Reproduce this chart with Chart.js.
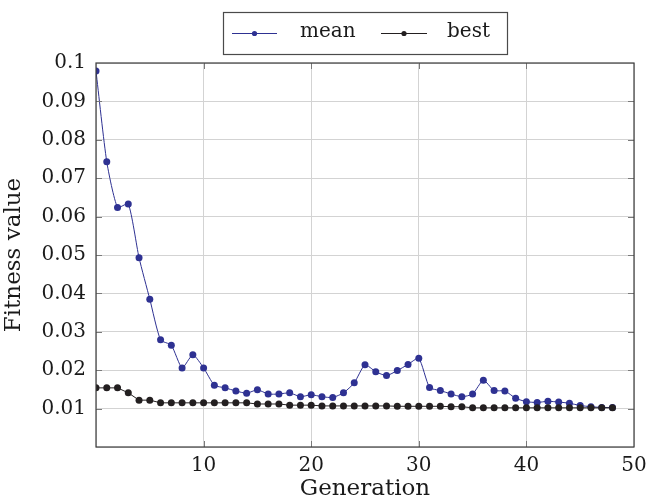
<!DOCTYPE html>
<html>
<head>
<meta charset="utf-8">
<script src="https://cdn.jsdelivr.net/npm/chart.js@4/dist/chart.umd.min.js"></script>
<style>
  html, body { margin: 0; padding: 0; background: #ffffff; }
  #wrap { width: 646px; height: 503px; position: relative; }
</style>
</head>
<body>
<div id="wrap"><canvas id="c" width="646" height="503"></canvas></div>
<script>
const generations = [0,1,2,3,4,5,6,7,8,9,10,11,12,13,14,15,16,17,18,19,20,21,22,23,24,25,26,27,28,29,30,31,32,33,34,35,36,37,38,39,40,41,42,43,44,45,46,47,48];
const meanValues = [0.0979,0.0743,0.0624,0.0633,0.0493,0.0385,0.0279,0.0265,0.0206,0.0240,0.0206,0.0161,0.0154,0.0146,0.0140,0.0149,0.0138,0.0138,0.0141,0.0131,0.0136,0.0131,0.0129,0.0141,0.0167,0.0214,0.0196,0.0186,0.0199,0.0215,0.0231,0.0155,0.0147,0.0138,0.0131,0.0138,0.0174,0.0147,0.0146,0.0127,0.0118,0.0116,0.0119,0.0117,0.0114,0.0108,0.0105,0.0103,0.0103];
const bestValues = [0.0154,0.0154,0.0154,0.0141,0.0122,0.0122,0.0115,0.0115,0.0115,0.0115,0.0115,0.0115,0.0115,0.0115,0.0115,0.0112,0.0112,0.0112,0.0109,0.0109,0.0109,0.0107,0.0107,0.0107,0.0107,0.0107,0.0107,0.0107,0.0106,0.0106,0.0106,0.0106,0.0106,0.0105,0.0105,0.0102,0.0102,0.0102,0.0102,0.0102,0.0102,0.0102,0.0102,0.0102,0.0102,0.0102,0.0102,0.0102,0.0102];
const seriesLabels = ['mean', 'best'];
const xTitle = 'Generation';
const yTitle = 'Fitness value';

const meanColor = 'rgb(46,49,146)';
const bestColor = 'rgb(35,31,32)';
const FONT = "'DejaVu Serif', serif";

const toPoints = (xs, ys) => xs.map((x, i) => ({ x: x, y: ys[i] }));

const frameAndTicks = {
  id: 'frameAndTicks',
  afterDatasetsDraw(chart) {
    const { ctx, chartArea: a, scales } = chart;
    ctx.save();
    ctx.strokeStyle = '#7a7a7a';
    ctx.lineWidth = 1;
    const L = 6;
    scales.x.ticks.forEach(t => {
      if (t.value <= 0 || t.value >= 50) return;
      const px = Math.round(scales.x.getPixelForValue(t.value)) + 0.5;
      ctx.beginPath();
      ctx.moveTo(px, a.bottom); ctx.lineTo(px, a.bottom - L);
      ctx.moveTo(px, a.top); ctx.lineTo(px, a.top + L);
      ctx.stroke();
    });
    scales.y.ticks.forEach(t => {
      if (t.value <= 0 || t.value >= 0.1 - 1e-9) return;
      const py = Math.round(scales.y.getPixelForValue(t.value)) + 0.5;
      ctx.beginPath();
      ctx.moveTo(a.left, py); ctx.lineTo(a.left + L, py);
      ctx.moveTo(a.right, py); ctx.lineTo(a.right - L, py);
      ctx.stroke();
    });
    ctx.strokeStyle = '#3c3c3c';
    ctx.lineWidth = 1.2;
    ctx.strokeRect(a.left, a.top, a.right - a.left, a.bottom - a.top);
    ctx.restore();
  }
};

const boxLegend = {
  id: 'boxLegend',
  afterDraw(chart) {
    const { ctx } = chart;
    ctx.save();
    const box = { x: 223, y: 12, w: 284, h: 42 };
    ctx.strokeStyle = '#4a4a4a';
    ctx.lineWidth = 1.2;
    ctx.strokeRect(box.x + 0.5, box.y + 0.5, box.w, box.h);
    const cy = 33;
    const items = [
      { label: seriesLabels[0], color: meanColor, x0: 232, x1: 277, tx: 300 },
      { label: seriesLabels[1], color: bestColor, x0: 381, x1: 427, tx: 447 }
    ];
    items.forEach(it => {
      ctx.strokeStyle = it.color;
      ctx.lineWidth = 1;
      ctx.beginPath();
      ctx.moveTo(it.x0, cy + 0.5); ctx.lineTo(it.x1, cy + 0.5);
      ctx.stroke();
      ctx.fillStyle = it.color;
      ctx.beginPath();
      ctx.arc((it.x0 + it.x1) / 2, cy + 0.5, 2.6, 0, Math.PI * 2);
      ctx.fill();
      ctx.fillStyle = '#1a1a1a';
      ctx.font = '20px ' + FONT;
      ctx.textBaseline = 'middle';
      ctx.textAlign = 'left';
      ctx.fillText(it.label, it.tx, cy - 1);
    });
    ctx.restore();
  }
};

new Chart(document.getElementById('c'), {
  type: 'line',
  data: {
    datasets: [
      {
        label: seriesLabels[0],
        data: toPoints(generations, meanValues),
        borderColor: meanColor,
        backgroundColor: meanColor,
        borderWidth: 1,
        pointRadius: 3.5,
        pointBorderWidth: 0,
        pointBackgroundColor: meanColor,
        tension: 0.2,
        order: 2
      },
      {
        label: seriesLabels[1],
        data: toPoints(generations, bestValues),
        borderColor: bestColor,
        backgroundColor: bestColor,
        borderWidth: 1,
        pointRadius: 3.5,
        pointBorderWidth: 0,
        pointBackgroundColor: bestColor,
        tension: 0,
        order: 1
      }
    ]
  },
  options: {
    responsive: false,
    animation: false,
    devicePixelRatio: 1,
    layout: { padding: { top: 63, right: 12, bottom: 0, left: 0 } },
    plugins: {
      legend: { display: false },
      tooltip: { enabled: false }
    },
    scales: {
      x: {
        type: 'linear',
        min: 0,
        max: 50,
        afterFit(s) { s.height = 56; s.paddingLeft = 0; s.paddingRight = 0; },
        ticks: {
          stepSize: 10,
          padding: 7,
          color: '#1a1a1a',
          font: { family: FONT, size: 20 },
          maxRotation: 0,
          callback: v => (v === 0 ? '' : String(v))
        },
        grid: { color: '#d3d3d3', lineWidth: 1, drawTicks: false, tickLength: 0 },
        border: { display: false },
        title: {
          display: true,
          text: xTitle,
          color: '#1a1a1a',
          font: { family: FONT, size: 23 },
          padding: { top: 0, bottom: 0 }
        }
      },
      y: {
        type: 'linear',
        min: 0,
        max: 0.1,
        afterFit(s) { s.width = 96; s.paddingTop = 0; s.paddingBottom = 0; },
        ticks: {
          stepSize: 0.01,
          padding: 10,
          color: '#1a1a1a',
          font: { family: FONT, size: 20 },
          callback: v => (Math.abs(v) < 1e-9 ? '' : String(Number(v.toFixed(2))))
        },
        grid: { color: '#d3d3d3', lineWidth: 1, drawTicks: false, tickLength: 0 },
        border: { display: false },
        title: {
          display: true,
          text: yTitle,
          color: '#1a1a1a',
          font: { family: FONT, size: 23 },
          padding: { top: 0, bottom: 8 }
        }
      }
    }
  },
  plugins: [frameAndTicks, boxLegend]
});
</script>
</body>
</html>
